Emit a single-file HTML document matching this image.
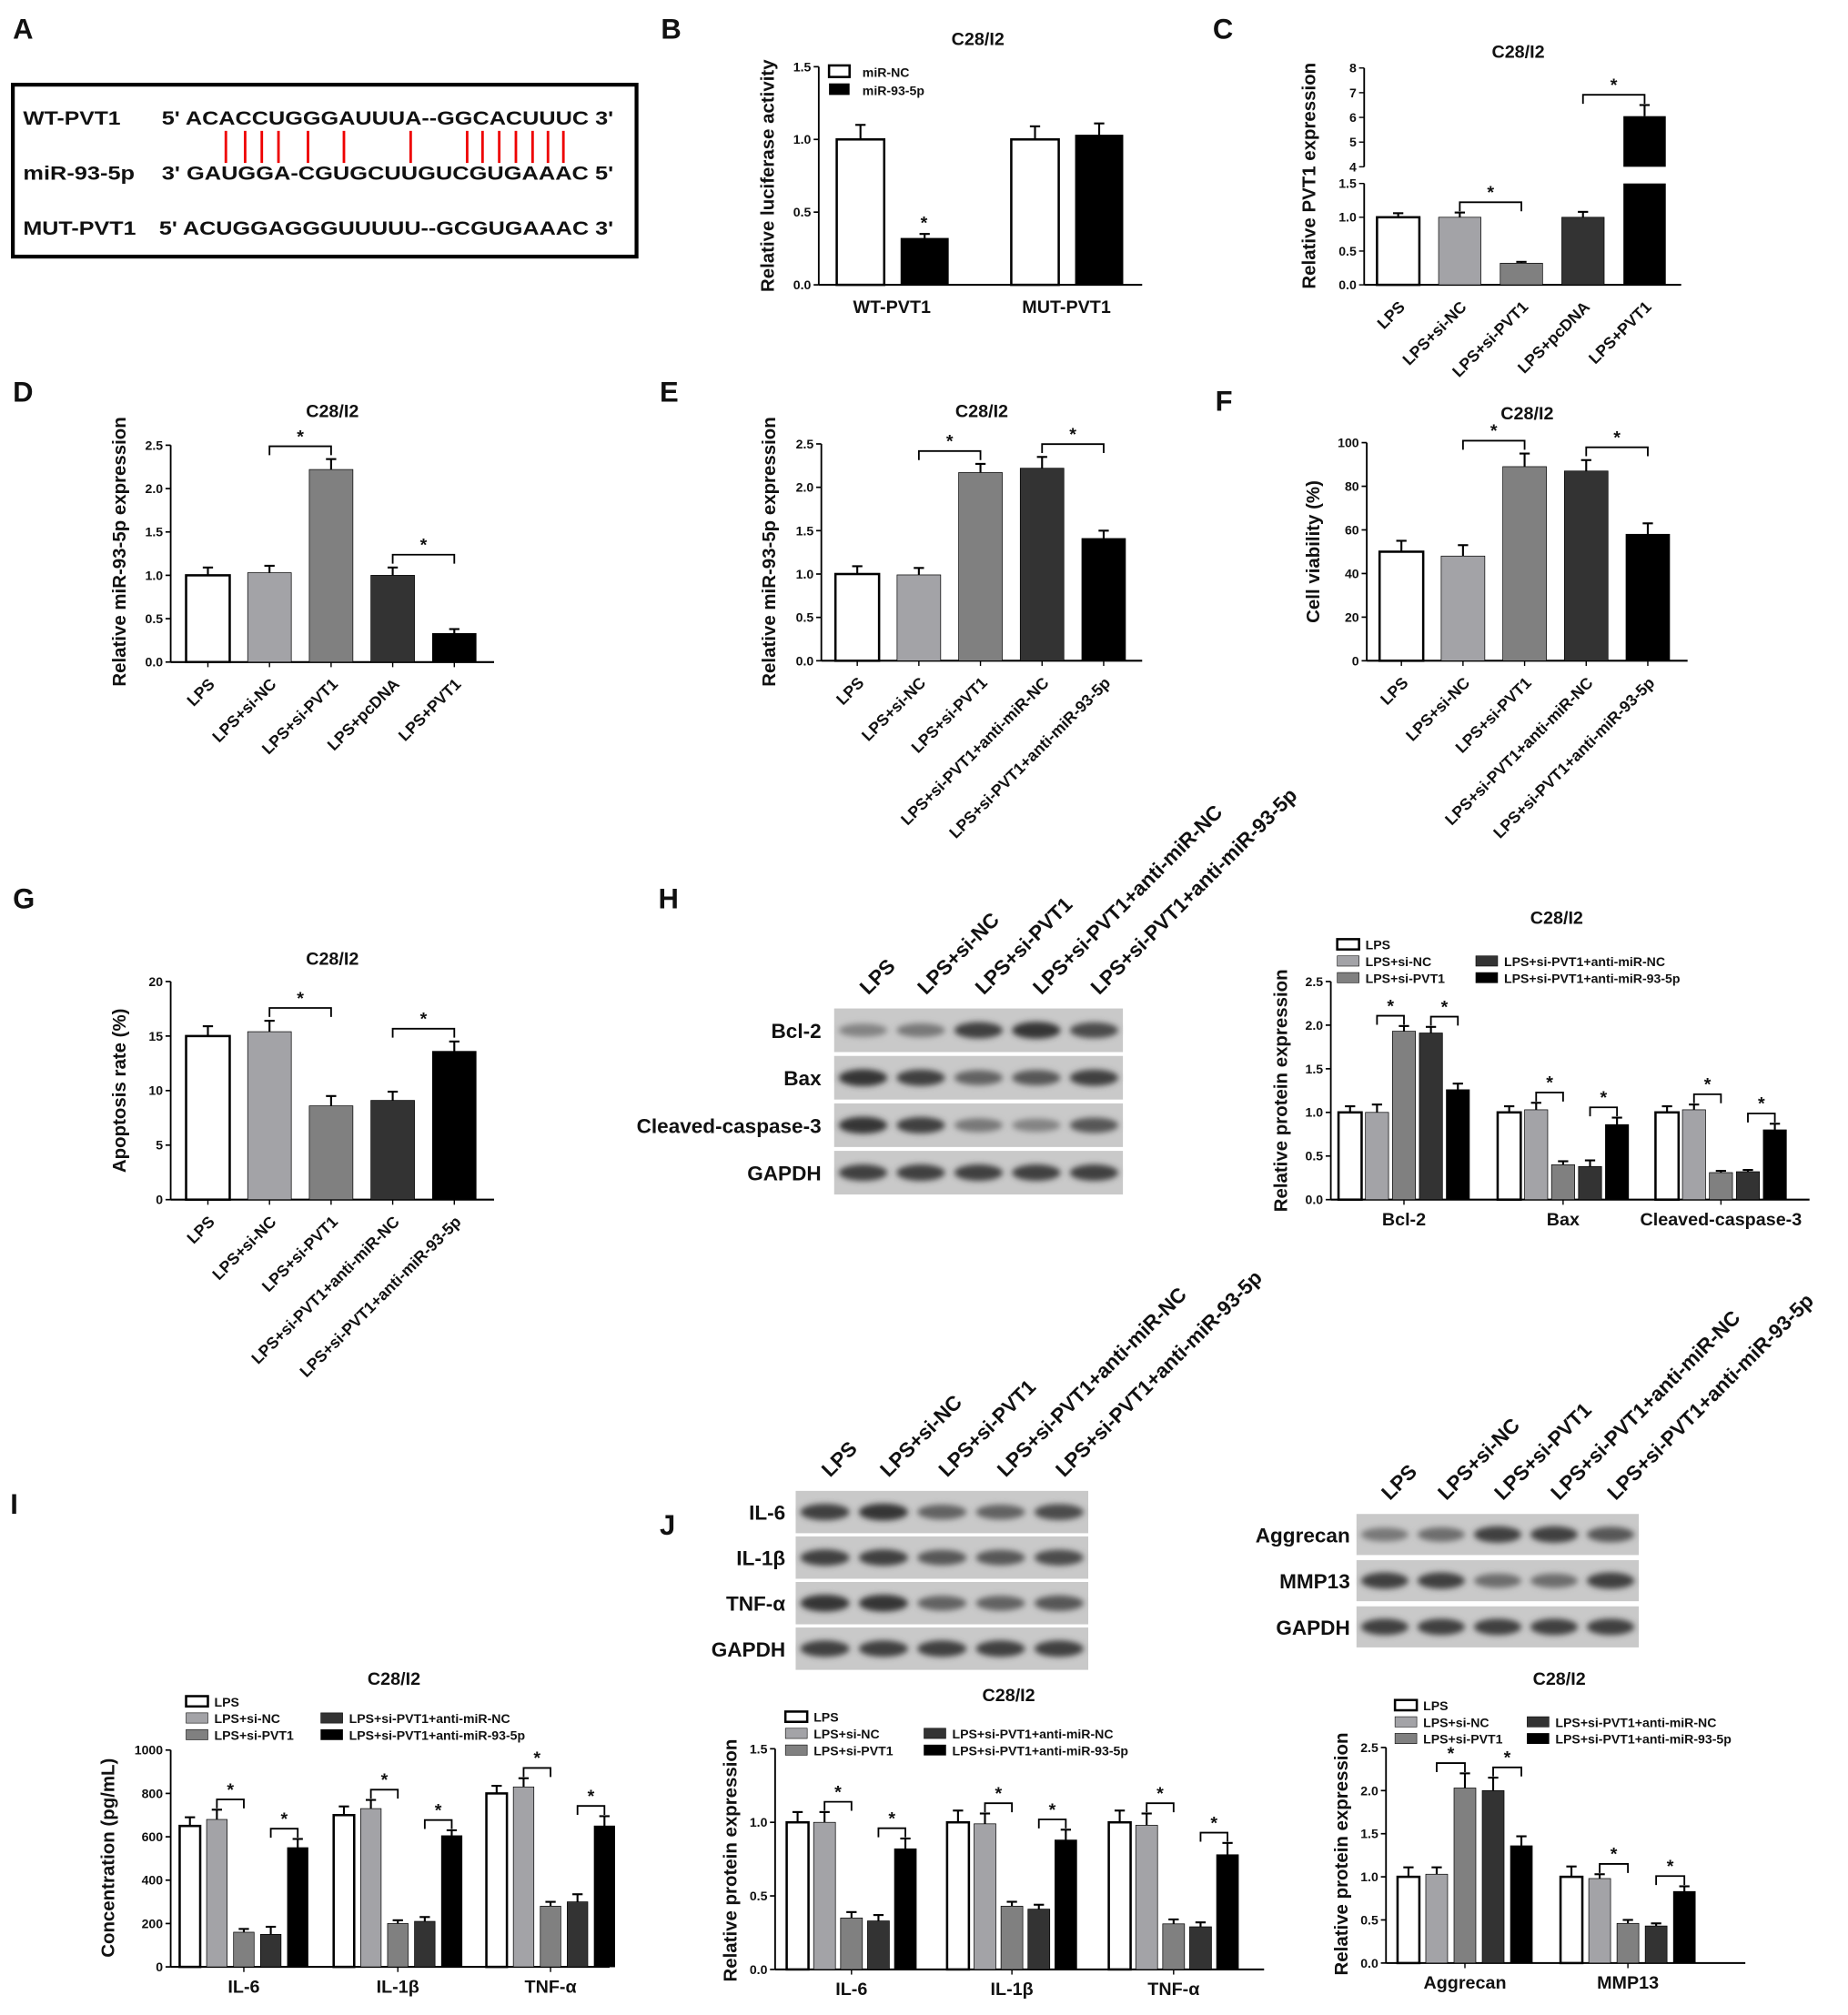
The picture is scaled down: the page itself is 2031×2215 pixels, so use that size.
<!DOCTYPE html>
<html><head><meta charset="utf-8"><style>
html,body{margin:0;padding:0;background:#fff}
svg{display:block}
text{font-family:"Liberation Sans",Arial,sans-serif;font-weight:bold;fill:#111}
</style></head><body>
<svg id="fig" xmlns="http://www.w3.org/2000/svg" width="2031" height="2215" viewBox="0 0 1440 1570.5" preserveAspectRatio="none">
<defs><filter id="blur" x="-20%" y="-50%" width="140%" height="200%"><feGaussianBlur stdDeviation="2.2"/></filter></defs>
<g id="root"></g>
</svg>
<script>
// ---------- data ----------
const seqRows=["WT-PVT1","miR-93-5p","MUT-PVT1"];
const seqs=["5' ACACCUGGGAUUUA--GGCACUUUC 3'","3' GAUGGA-CGUGCUUGUCGUGAAAC 5'","5' ACUGGAGGGUUUUU--GCGUGAAAC 3'"];
const bCats=["WT-PVT1","MUT-PVT1"];
const bNC=[1.0,1.0]; const bNCerr=[0.1,0.09];
const bMiR=[0.32,1.03]; const bMiRerr=[0.03,0.08];
const bTicks=[0,0.5,1.0,1.5];
const cCats=["LPS","LPS+si-NC","LPS+si-PVT1","LPS+pcDNA","LPS+PVT1"];
const cVals=[1.0,1.0,0.32,1.0,6.05]; const cErr=[0.06,0.07,0.02,0.08,0.45];
const cTicksLow=[0,0.5,1.0,1.5]; const cTicksHigh=[4,5,6,7,8];
const dCats=["LPS","LPS+si-NC","LPS+si-PVT1","LPS+pcDNA","LPS+PVT1"];
const dVals=[1.0,1.03,2.22,1.0,0.33]; const dErr=[0.09,0.08,0.12,0.09,0.05];
const dTicks=[0,0.5,1.0,1.5,2.0,2.5];
const eCats=["LPS","LPS+si-NC","LPS+si-PVT1","LPS+si-PVT1+anti-miR-NC","LPS+si-PVT1+anti-miR-93-5p"];
const eVals=[1.0,0.99,2.17,2.22,1.41]; const eErr=[0.09,0.08,0.1,0.13,0.09];
const eTicks=[0,0.5,1.0,1.5,2.0,2.5];
const fVals=[50,48,89,87,58]; const fErr=[5,5,6,5,5];
const fTicks=[0,20,40,60,80,100];
const gVals=[15.0,15.4,8.6,9.1,13.6]; const gErr=[0.9,1.0,0.9,0.8,0.9];
const gTicks=[0,5,10,15,20];
const legendNames=["LPS","LPS+si-NC","LPS+si-PVT1","LPS+si-PVT1+anti-miR-NC","LPS+si-PVT1+anti-miR-93-5p"];
const hCats=["Bcl-2","Bax","Cleaved-caspase-3"];
const hVals=[[1.0,1.0,1.93,1.91,1.26],[1.0,1.03,0.4,0.38,0.86],[1.0,1.03,0.31,0.32,0.8]];
const hErr=[[0.07,0.09,0.06,0.07,0.07],[0.07,0.08,0.04,0.07,0.08],[0.07,0.06,0.02,0.02,0.07]];
const hTicks=[0,0.5,1.0,1.5,2.0,2.5];
const iCats=["IL-6","IL-1β","TNF-α"];
const iVals=[[650,680,160,150,550],[700,730,200,210,605],[800,830,280,300,650]];
const iErr=[[40,45,15,35,40],[40,40,15,20,25],[35,40,20,35,45]];
const iTicks=[0,200,400,600,800,1000];
const j1Cats=["IL-6","IL-1β","TNF-α"];
const j1Vals=[[1.0,1.0,0.35,0.33,0.82],[1.0,0.99,0.43,0.41,0.88],[1.0,0.98,0.31,0.29,0.78]];
const j1Err=[[0.07,0.07,0.04,0.04,0.07],[0.08,0.07,0.03,0.03,0.07],[0.08,0.08,0.03,0.03,0.08]];
const j1Ticks=[0,0.5,1.0,1.5];
const j2Cats=["Aggrecan","MMP13"];
const j2Vals=[[1.0,1.03,2.03,2.0,1.36],[1.0,0.98,0.46,0.43,0.83]];
const j2Err=[[0.11,0.08,0.17,0.15,0.11],[0.12,0.05,0.04,0.03,0.06]];
const j2Ticks=[0,0.5,1.0,1.5,2.0,2.5];
const hBlotRows=["Bcl-2","Bax","Cleaved-caspase-3","GAPDH"];
const hBand=[[0.55,0.6,0.85,0.9,0.8],[0.9,0.85,0.7,0.75,0.85],[0.9,0.85,0.6,0.55,0.75],[0.85,0.85,0.85,0.85,0.85]];
const jBlotRows=["IL-6","IL-1β","TNF-α","GAPDH"];
const jBand=[[0.85,0.9,0.7,0.7,0.8],[0.85,0.85,0.75,0.75,0.8],[0.9,0.9,0.7,0.7,0.75],[0.85,0.85,0.85,0.85,0.85]];
const kBlotRows=["Aggrecan","MMP13","GAPDH"];
const kBand=[[0.6,0.65,0.85,0.85,0.75],[0.85,0.85,0.65,0.65,0.85],[0.85,0.85,0.85,0.85,0.85]];
const colors=["#fff","#a3a3a7","#808080","#333","#000"];

// ---------- helpers ----------
const NS="http://www.w3.org/2000/svg";
const root=document.getElementById('root');
function el(tag,attrs,parent,txt){const e=document.createElementNS(NS,tag);for(const k in attrs)e.setAttribute(k,attrs[k]);if(txt!==undefined)e.textContent=txt;(parent||root).appendChild(e);return e;}
function label(x,y,t,size,anchor,name,extra){const e=el('text',Object.assign({x:x,y:y,'font-size':size,'text-anchor':anchor||'start'},extra||{}),root,t);


return e;}
function fmt(v,d){return v.toFixed(d);}
function yAxis(ax,y0,yTop,max,ticks,dec,name){
 const sc=v=>y0-(v/max)*(y0-yTop);
 const g=el('g',{});
 
 
 el('line',{x1:ax,y1:y0,x2:ax,y2:yTop,stroke:'#000','stroke-width':1.3},g);
 ticks.forEach(t=>{const y=sc(t);el('line',{x1:ax-4,y1:y,x2:ax,y2:y,stroke:'#000','stroke-width':1.2},g);
  el('text',{x:ax-6,y:y+3.5,'font-size':10,'text-anchor':'end'},g,fmt(t,dec));});
 return sc;}
function ylab(x,cy,t,name){label(x,cy,t,14.5,'middle',name,{transform:`rotate(-90 ${x} ${cy})`});}
function bar(x,w,y0,sc,v,err,color,name){
 const g=el('g',{});
 
 
 const top=sc(v+err),yv=sc(v);
 el('line',{x1:x+w/2,y1:yv,x2:x+w/2,y2:top,stroke:'#000','stroke-width':1.5},g);
 el('line',{x1:x+w/2-4,y1:top,x2:x+w/2+4,y2:top,stroke:'#000','stroke-width':1.5},g);
 el('rect',{x:x,y:yv,width:w,height:y0-yv,fill:color,stroke:'#000','stroke-width':color==='#fff'?1.8:0.5},g);
 return top;}
function bracket(x1,x2,y,name){
 const g=el('g',{});
 
 
 el('path',{d:`M${x1} ${y+7}V${y}H${x2}V${y+7}`,fill:'none',stroke:'#000','stroke-width':1.3},g);
 el('text',{x:(x1+x2)/2,y:y-3,'font-size':14,'text-anchor':'middle'},g,'*');}
function rotLabels(cats,cx,y,name){cats.forEach((c,i)=>{label(cx[i]+6,y,c,12.5,'end',name+'-'+i,{transform:`rotate(-45 ${cx[i]+6} ${y})`});});}
function simpleChart(o){
 const sc=yAxis(o.ax,o.y0,o.yTop,o.max,o.ticks,o.dec,o.name+'-y-axis');
 el('line',{x1:o.ax,y1:o.y0,x2:o.axEnd,y2:o.y0,stroke:'#000','stroke-width':1.5});
 const tops=[],cx=[];
 o.vals.forEach((v,i)=>{const x=o.start+i*o.step;cx.push(x+o.w/2);
  el('line',{x1:x+o.w/2,y1:o.y0,x2:x+o.w/2,y2:o.y0+4,stroke:'#000'});
  tops.push(bar(x,o.w,o.y0,sc,v,o.err[i],colors[i],o.name+'-bar-'+i));});
 (o.stars||[]).forEach(p=>{const y=Math.min(tops[p[0]],tops[p[1]])-10;bracket(cx[p[0]],cx[p[1]],y,o.name+'-sig-bracket');});
 rotLabels(o.cats,cx,o.y0+18,o.name+'-x-label');
 label((o.ax+o.axEnd)/2,o.titleY,'C28/I2',14,'middle',o.name+'-title');}
function groupChart(o){
 const sc=yAxis(o.ax,o.y0,o.yTop,o.max,o.ticks,o.dec,o.name+'-y-axis');
 el('line',{x1:o.ax,y1:o.y0,x2:o.axEnd,y2:o.y0,stroke:'#000','stroke-width':1.5});
 o.vals.forEach((gv,g)=>{const tops=[],cx=[];
  gv.forEach((v,i)=>{const x=o.starts[g]+i*o.step;cx.push(x+o.w/2);tops.push(bar(x,o.w,o.y0,sc,v,o.err[g][i],colors[i],o.name+'-bar-'+g+'-'+i));});
  const mid=(cx[0]+cx[4])/2;
  el('line',{x1:mid,y1:o.y0,x2:mid,y2:o.y0+4,stroke:'#000'});
  label(mid,o.y0+20,o.cats[g],14,'middle',o.name+'-category-'+g);
  bracket(cx[1],cx[2],Math.min(tops[1],tops[2])-8,o.name+'-sig-a');
  bracket(cx[3],cx[4],Math.min(tops[3],tops[4])-8,o.name+'-sig-b');});
 label(o.titleX,o.titleY,'C28/I2',14,'middle',o.name+'-title');
 legend(o.lx,o.ly,o.lx2,o.name);}
function legend(x,y,x2,name){
 const pos=[[x,y],[x,y+13],[x,y+26],[x2,y+13],[x2,y+26]];
 legendNames.forEach((n,i)=>{const g=el('g',{});
  
  
  el('rect',{x:pos[i][0],y:pos[i][1]-8,width:17,height:8,fill:colors[i],stroke:'#000','stroke-width':i===0?1.8:0.4},g);
  el('text',{x:pos[i][0]+22,y:pos[i][1],'font-size':10},g,n);});}
function blot(x,y,w,rows,rowH,gap,bands,labs,lx,name){
 const lane=w/5;
 rows.forEach((r,ri)=>{const ry=y+ri*(rowH+gap);const g=el('g',{});
  
  
  el('rect',{x:x,y:ry,width:w,height:rowH,fill:'#c9c9c9'},g);
  bands[ri].forEach((d,i)=>{const c=Math.round(255-225*d);el('ellipse',{cx:x+lane*(i+0.5),cy:ry+rowH/2,rx:lane*0.42,ry:3+d*4,fill:`rgb(${c},${c},${c})`,filter:'url(#blur)'},g);});
  label(lx,ry+rowH/2+6,r,16,'end',name+'-label-'+ri);});
 labs.forEach((t,i)=>{const cx=x+lane*(i+0.5)+4,cy=y-10;label(cx,cy,t,16,'start',name+'-lane-label-'+i,{transform:`rotate(-45 ${cx} ${cy})`});});}

// ---------- panel letters ----------
[["A",10,30],["B",515,30],["C",945,30],["D",10,313],["E",514,313],["F",947,320],["G",10,708],["H",513,708],["I",8,1180],["J",514,1196]].forEach(p=>label(p[1],p[2],p[0],22,'start','panel-label-'+p[0].toLowerCase()));

// ---------- A ----------
(function(){const b=el('rect',{x:10,y:66,width:486,height:134,fill:'none',stroke:'#000','stroke-width':3});


const ys=[97,140,183],sx=[126,126,124],nw=[76,87,88];
seqRows.forEach((r,i)=>{label(18,ys[i],r,15,'start','seq-name-'+i,{textLength:nw[i],lengthAdjust:'spacingAndGlyphs'});
 label(sx[i],ys[i],seqs[i],15,'start','seq-'+i,{textLength:478-sx[i],lengthAdjust:'spacingAndGlyphs'});});
[176,191,204,217,240,268,320,364,376,389,402,415,427,439].forEach(x=>el('line',{x1:x,y1:102,x2:x,y2:127,stroke:'#e00','stroke-width':2}));})();

// ---------- B ----------
(function(){const ax=638,y0=222,yTop=52;const sc=yAxis(ax,y0,yTop,1.5,bTicks,1,'b-y-axis');
el('line',{x1:ax,y1:y0,x2:890,y2:y0,stroke:'#000','stroke-width':1.5});
const starts=[652,788];
bCats.forEach((c,g)=>{bar(starts[g],37,y0,sc,bNC[g],bNCerr[g],'#fff','b-bar-nc-'+g);
 const t=bar(starts[g]+50,37,y0,sc,bMiR[g],bMiRerr[g],'#000','b-bar-mir-'+g);
 if(g===0)label(starts[g]+68,t-4,'*',14,'middle','b-star');
 label(starts[g]+43,y0+22,c,14,'middle','b-category-'+g);});
label(762,35,'C28/I2',14,'middle','b-title');ylab(603,137,'Relative luciferase activity','b-y-title');
el('rect',{x:646,y:51,width:16,height:9,fill:'#fff',stroke:'#000','stroke-width':1.8});label(672,60,'miR-NC',10,'start','b-legend-nc');
el('rect',{x:646,y:65,width:16,height:9,fill:'#000'});label(672,74,'miR-93-5p',10,'start','b-legend-mir');})();

// ---------- C (broken axis) ----------
(function(){const ax=1063,y0=222,lowTop=143,hiBot=130,hiTop=53;
const lo=v=>y0-(v/1.5)*(y0-lowTop),hi=v=>hiBot-((v-4)/4)*(hiBot-hiTop);
const g=el('g',{});
el('line',{x1:ax,y1:y0,x2:ax,y2:lowTop,stroke:'#000','stroke-width':1.3},g);el('line',{x1:ax,y1:hiBot,x2:ax,y2:hiTop,stroke:'#000','stroke-width':1.3},g);
cTicksLow.forEach(t=>{el('line',{x1:ax-4,y1:lo(t),x2:ax,y2:lo(t),stroke:'#000'},g);el('text',{x:ax-6,y:lo(t)+3.5,'font-size':10,'text-anchor':'end'},g,fmt(t,1));});
cTicksHigh.forEach(t=>{el('line',{x1:ax-4,y1:hi(t),x2:ax,y2:hi(t),stroke:'#000'},g);el('text',{x:ax-6,y:hi(t)+3.5,'font-size':10,'text-anchor':'end'},g,String(t));});
el('line',{x1:ax,y1:y0,x2:1310,y2:y0,stroke:'#000','stroke-width':1.5});
const cx=[],tops=[];
cVals.forEach((v,i)=>{const x=1073+i*48,w=33;cx.push(x+w/2);
 if(v<=1.5){tops.push(bar(x,w,y0,lo,v,cErr[i],colors[i],'c-bar-'+i));}
 else{const b=el('g',{});
  el('rect',{x:x,y:lowTop,width:w,height:y0-lowTop,fill:colors[i]},b);
  el('rect',{x:x,y:hi(v),width:w,height:hiBot-hi(v),fill:colors[i]},b);
  el('line',{x1:x+w/2,y1:hi(v),x2:x+w/2,y2:hi(v+cErr[i]),stroke:'#000','stroke-width':1.5},b);
  el('line',{x1:x+w/2-4,y1:hi(v+cErr[i]),x2:x+w/2+4,y2:hi(v+cErr[i]),stroke:'#000','stroke-width':1.5},b);
  tops.push(hi(v+cErr[i]));}});
bracket(cx[1],cx[2],Math.min(tops[1],tops[2])-8,'c-sig-a');bracket(cx[3],cx[4],Math.min(tops[3],tops[4])-8,'c-sig-b');
rotLabels(cCats,cx,y0+18,'c-x-label');label(1183,45,'C28/I2',14,'middle','c-title');ylab(1025,137,'Relative PVT1 expression','c-y-title');})();

// ---------- D,E,F,G ----------
simpleChart({name:'d',ax:133,axEnd:385,y0:516,yTop:347,max:2.5,ticks:dTicks,dec:1,start:145,step:48,w:34,vals:dVals,err:dErr,cats:dCats,stars:[[1,2],[3,4]],titleY:325});
ylab(98,430,'Relative miR-93-5p expression','d-y-title');
simpleChart({name:'e',ax:640,axEnd:890,y0:515,yTop:346,max:2.5,ticks:eTicks,dec:1,start:651,step:48,w:34,vals:eVals,err:eErr,cats:eCats,stars:[[1,2],[3,4]],titleY:325});
ylab(604,430,'Relative miR-93-5p expression','e-y-title');
simpleChart({name:'f',ax:1065,axEnd:1315,y0:515,yTop:345,max:100,ticks:fTicks,dec:0,start:1075,step:48,w:34,vals:fVals,err:fErr,cats:eCats,stars:[[1,2],[3,4]],titleY:327});
ylab(1028,430,'Cell viability (%)','f-y-title');
simpleChart({name:'g',ax:133,axEnd:385,y0:935,yTop:765,max:20,ticks:gTicks,dec:0,start:145,step:48,w:34,vals:gVals,err:gErr,cats:eCats,stars:[[1,2],[3,4]],titleY:752});
ylab(98,850,'Apoptosis rate (%)','g-y-title');

// ---------- H ----------
blot(650,786,225,hBlotRows,34,3,hBand,legendNames,640,'h-blot');
groupChart({name:'h',ax:1037,axEnd:1410,y0:935,yTop:765,max:2.5,ticks:hTicks,dec:1,starts:[1043,1167,1290],step:21,w:18,vals:hVals,err:hErr,cats:hCats,titleX:1213,titleY:720,lx:1042,ly:740,lx2:1150});
ylab(1003,850,'Relative protein expression','h-y-title');

// ---------- I ----------
groupChart({name:'i',ax:133,axEnd:475,y0:1533,yTop:1364,max:1000,ticks:iTicks,dec:0,starts:[140,260,379],step:21,w:16,vals:iVals,err:iErr,cats:iCats,titleX:307,titleY:1313,lx:145,ly:1330,lx2:250});
ylab(89,1448,'Concentration (pg/mL)','i-y-title');

// ---------- J ----------
blot(620,1162,228,jBlotRows,33,2.5,jBand,legendNames,612,'j-blot-cytokines');
blot(1057,1180,220,kBlotRows,32,4,kBand,legendNames,1052,'j-blot-ecm');
groupChart({name:'j1',ax:604,axEnd:985,y0:1535,yTop:1363,max:1.5,ticks:j1Ticks,dec:1,starts:[613,738,864],step:21,w:17,vals:j1Vals,err:j1Err,cats:j1Cats,titleX:786,titleY:1326,lx:612,ly:1342,lx2:720});
ylab(574,1450,'Relative protein expression','j1-y-title');
groupChart({name:'j2',ax:1080,axEnd:1360,y0:1530,yTop:1362,max:2.5,ticks:j2Ticks,dec:1,starts:[1089,1216],step:22,w:17,vals:j2Vals,err:j2Err,cats:j2Cats,titleX:1215,titleY:1313,lx:1087,ly:1333,lx2:1190});
ylab(1050,1445,'Relative protein expression','j2-y-title');
</script>
</body></html>
